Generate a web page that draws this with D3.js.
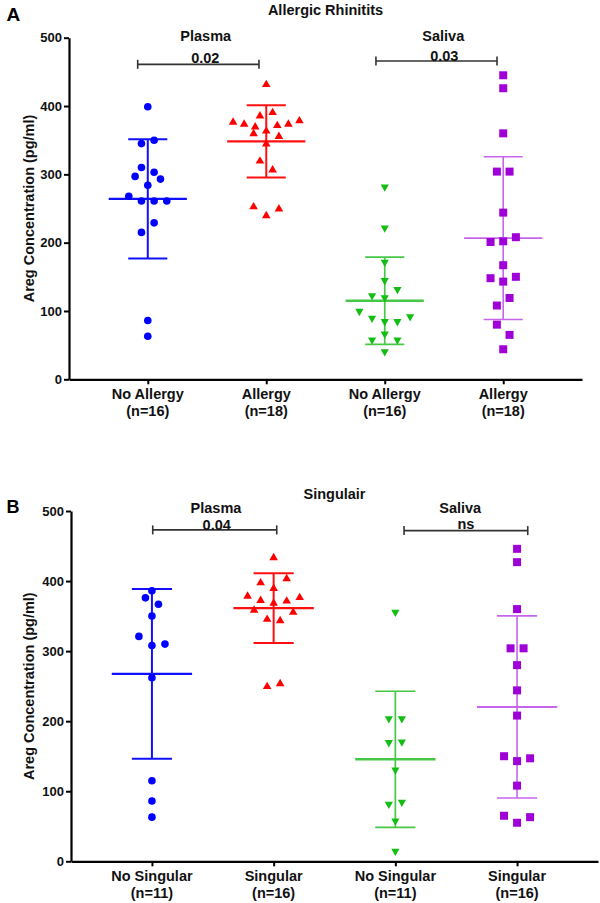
<!DOCTYPE html>
<html>
<head>
<meta charset="utf-8">
<script src="https://cdn.jsdelivr.net/npm/d3@7"></script>
<style>
  html, body { margin: 0; padding: 0; background: #ffffff; }
  svg { display: block; }
  text { font-family: "Liberation Sans", Arial, Helvetica, sans-serif; font-weight: bold; fill: #111; }
</style>
</head>
<body>
<svg id="chart" width="600" height="903"></svg>
<script>
// ---------------- DATA ----------------
const yTicks = [0, 100, 200, 300, 400, 500];
const panelLetters = ["A", "B"];
const panelTitles = ["Allergic Rhinitits", "Singulair"];
const sampleTypes = ["Plasma", "Saliva"];

const groupsA = ["No Allergy", "Allergy", "No Allergy", "Allergy"];
const countsA = [16, 18, 16, 18];
const groupsB = ["No Singular", "Singular", "No Singular", "Singular"];
const countsB = [11, 16, 11, 16];

// Panel A – Allergic Rhinitits (pg/ml)
const aNoAllergyPlasma = [399, 345, 350, 310, 303, 297, 284, 293, 268, 261, 261, 261, 215, 229, 86, 63];
const aAllergyPlasma   = [433, 387, 392, 378, 375, 371, 365, 373, 375, 380, 361, 346, 357, 321, 308, 254, 241, 251];
const aNoAllergySaliva = [280, 220, 170, 143, 121, 118, 130, 98, 88, 83, 83, 90, 56, 65, 56, 39];
const aAllergySaliva   = [445, 426, 360, 304, 304, 244, 201, 202, 208, 167, 148, 143, 150, 108, 119, 80, 65, 44];

// Panel B – Singulair (pg/ml)
const bNoSingularPlasma = [386, 376, 367, 350, 321, 308, 310, 262, 115, 86, 63];
const bSingularPlasma   = [435, 399, 391, 405, 380, 374, 370, 373, 378, 360, 347, 345, 357, 251, 255];
const bNoSingularSaliva = [354, 202, 202, 168, 169, 129, 80, 83, 56, 13];
const bSingularSaliva   = [446, 427, 360, 304, 304, 280, 244, 208, 150, 143, 147, 108, 65, 55, 63];

// comparisons: p-value labels and bracket heights (pg/ml)
const pValuesA = ["0.02", "0.03"];
const bracketLevelsA = [461, 466];
const pValuesB = ["0.04", "ns"];
const bracketLevelsB = [473, 472];

// ---------------- STYLE / LAYOUT ----------------
const markerColors = ["#0000ff", "#ff0000", "#14bd14", "#a000d8"];
const barColors    = ["#1010ff", "#ff1010", "#46c846", "#c764ec"];
const barWidths    = [2, 2, 1.7, 1.6];
const meanWidths   = [2.2, 2.2, 2.4, 1.8];
const shapes       = ["circle", "triUp", "triDown", "square"];

const panels = [
  {
    letter: panelLetters[0], title: panelTitles[0],
    groups: groupsA, counts: countsA,
    series: [aNoAllergyPlasma, aAllergyPlasma, aNoAllergySaliva, aAllergySaliva],
    pvals: pValuesA, brackets: bracketLevelsA,
    left: 69, right: 582, top: 37.7, bottom: 379.3,
    letterY: 20.7, letterSize: 19, titleY: 15,
    bracketEnds: [[-10.1, -7.3], [-8.8, -6.2]],
    sampleDy: 2.8, sampleDx: [-1.3, -0.7], pDx: [-1.7, 0.3], pDy: [-1, 0]
  },
  {
    letter: panelLetters[1], title: panelTitles[1],
    groups: groupsB, counts: countsB,
    series: [bNoSingularPlasma, bSingularPlasma, bNoSingularSaliva, bSingularSaliva],
    pvals: pValuesB, brackets: bracketLevelsB,
    left: 71, right: 598, top: 511, bottom: 861.3,
    letterY: 513.3, letterSize: 18, titleY: 499,
    bracketEnds: [[0.8, 3.1], [8.7, 10.7]],
    sampleDy: 1.6, sampleDx: [3.2, 4], pDx: [3.9, 9.7], pDy: [-0.3, -1.4]
  }
];

const svg = d3.select("#chart");
svg.append("rect").attr("width", 600).attr("height", 903).attr("fill", "#fff");

function symbolPath(shape) {
  if (shape === "circle") return d3.symbol(d3.symbolCircle, Math.PI * 3.8 * 3.8)();
  if (shape === "square") return "M-4,-4H4V4H-4Z";
  if (shape === "triUp") return "M0,-3.8L4.3,3.6L-4.3,3.6Z";
  return "M0,3.8L4.1,-3.5L-4.1,-3.5Z";
}

// GraphPad-like column scatter: close values are grouped into rows and spread symmetrically
function swarmOffsets(values, y, step, maxHalf, thresh) {
  const order = values.map((v, i) => i).sort((a, b) => values[a] - values[b] || a - b);
  const bins = [];
  let cur = null;
  for (const i of order) {
    const py = y(values[i]);
    if (cur && Math.abs(py - cur.start) <= thresh) cur.items.push(i);
    else { cur = { start: py, items: [i] }; bins.push(cur); }
  }
  const off = new Array(values.length).fill(0);
  for (const b of bins) {
    const items = b.items.slice().sort((a, c) => a - c);
    const n = items.length;
    const s = n > 1 ? Math.min(step, 2 * maxHalf / (n - 1)) : 0;
    items.forEach((it, k) => { off[it] = (k - (n - 1) / 2) * s; });
  }
  return off;
}

panels.forEach(p => {
  const g = svg.append("g");
  const y = d3.scaleLinear().domain([0, 500]).range([p.bottom, p.top]);
  const keys = d3.range(p.groups.length);
  const x = d3.scalePoint().domain(keys).range([p.left, p.right]).padding(0.665);
  const step = x.step();

  // panel letter & title
  g.append("text").attr("x", 6.5).attr("y", p.letterY)
    .style("font-size", p.letterSize + "px").style("fill", "#000").text(p.letter);
  g.append("text").attr("x", (p.left + p.right) / 2).attr("y", p.titleY)
    .attr("text-anchor", "middle").style("font-size", "14.5px").text(p.title);

  // y axis
  const yAxis = g.append("g").attr("transform", `translate(${p.left},0)`)
    .call(d3.axisLeft(y).tickValues(yTicks).tickSize(5).tickSizeOuter(0).tickPadding(2));
  yAxis.select(".domain").attr("stroke", "#000").attr("stroke-width", 2.2);
  yAxis.selectAll(".tick line").attr("stroke", "#000").attr("stroke-width", 2);
  yAxis.selectAll(".tick text")
    .style("font-family", '"Liberation Sans", Arial, sans-serif')
    .style("font-weight", "bold").style("font-size", "13px").attr("fill", "#111");

  // x axis
  const xAxis = g.append("g").attr("transform", `translate(0,${p.bottom})`)
    .call(d3.axisBottom(x).tickSize(5).tickSizeOuter(0).tickFormat(""));
  xAxis.select(".domain").attr("stroke", "#000").attr("stroke-width", 2.2);
  xAxis.selectAll(".tick line").attr("stroke", "#000").attr("stroke-width", 2);
  keys.forEach(k => {
    const t = g.append("text").attr("text-anchor", "middle").style("font-size", "14.5px");
    t.append("tspan").attr("x", x(k)).attr("y", p.bottom + 19.3).text(p.groups[k]);
    t.append("tspan").attr("x", x(k)).attr("y", p.bottom + 36.3).text(`(n=${p.counts[k]})`);
  });

  // y axis title
  g.append("text")
    .attr("transform", `translate(33.5,${(p.top + p.bottom) / 2}) rotate(-90)`)
    .attr("text-anchor", "middle").style("font-size", "14.5px")
    .text("Areg Concentration (pg/ml)");

  // comparisons
  [0, 1].forEach(c => {
    const k1 = c * 2, k2 = c * 2 + 1;
    const mid = (x(k1) + x(k2)) / 2;
    const by = y(p.brackets[c]);
    const x1 = x(k1) + p.bracketEnds[c][0], x2 = x(k2) + p.bracketEnds[c][1];
    const br = g.append("g").attr("stroke", "#333").attr("stroke-width", 1.6).attr("fill", "none");
    br.append("line").attr("x1", x1).attr("x2", x2).attr("y1", by).attr("y2", by);
    br.append("line").attr("x1", x1).attr("x2", x1).attr("y1", by - 4.5).attr("y2", by + 4.5);
    br.append("line").attr("x1", x2).attr("x2", x2).attr("y1", by - 4.5).attr("y2", by + 4.5);
    g.append("text").attr("x", mid + p.sampleDx[c]).attr("y", p.top + p.sampleDy)
      .attr("text-anchor", "middle").style("font-size", "14.5px").text(sampleTypes[c]);
    g.append("text").attr("x", mid + p.pDx[c]).attr("y", by + p.pDy[c])
      .attr("text-anchor", "middle").style("font-size", "14.5px").text(p.pvals[c]);
  });

  // groups: mean ± SD bars, then points
  p.series.forEach((vals, k) => {
    const cx = x(k);
    const m = d3.mean(vals), sd = d3.deviation(vals);
    const eb = g.append("g").attr("stroke", barColors[k]).attr("fill", "none");
    const halfMean = step * 0.33, halfCap = step * 0.165;
    eb.append("line").attr("x1", cx).attr("x2", cx).attr("y1", y(m - sd)).attr("y2", y(m + sd))
      .attr("stroke-width", barWidths[k]);
    eb.append("line").attr("x1", cx - halfCap).attr("x2", cx + halfCap)
      .attr("y1", y(m + sd)).attr("y2", y(m + sd)).attr("stroke-width", barWidths[k]);
    eb.append("line").attr("x1", cx - halfCap).attr("x2", cx + halfCap)
      .attr("y1", y(m - sd)).attr("y2", y(m - sd)).attr("stroke-width", barWidths[k]);
    eb.append("line").attr("x1", cx - halfMean).attr("x2", cx + halfMean)
      .attr("y1", y(m)).attr("y2", y(m)).attr("stroke-width", meanWidths[k]);

    const offs = swarmOffsets(vals, y, step * 0.107, step * 0.28, 11);
    g.append("g").selectAll("path").data(vals).join("path")
      .attr("d", symbolPath(shapes[k]))
      .attr("transform", (d, i) => `translate(${cx + offs[i]},${y(d)})`)
      .attr("fill", markerColors[k]);
  });
});
</script>
</body>
</html>
